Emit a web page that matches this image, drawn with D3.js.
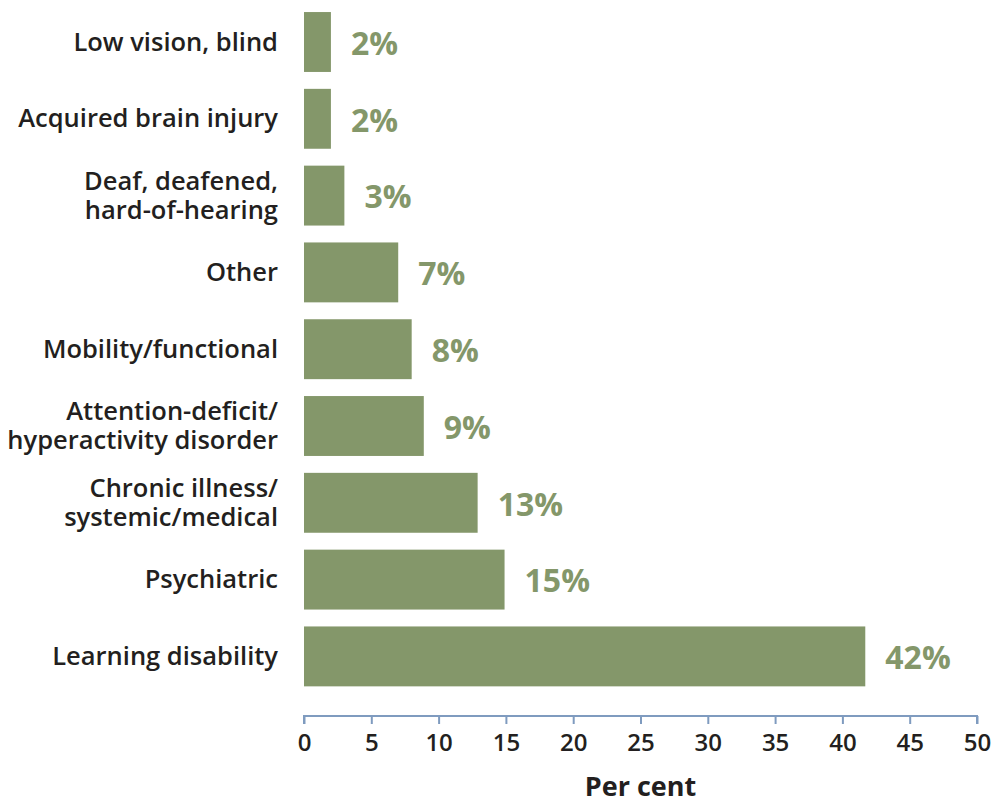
<!DOCTYPE html>
<html>
<head>
<meta charset="utf-8">
<script src="https://cdn.jsdelivr.net/npm/d3@7"></script>
<style>
  body { margin: 0; background: #fff; }
  text { font-family: "Open Sans", "Noto Sans", sans-serif; }
</style>
</head>
<body>
<script>
// Data
var categories = [
    ["Low vision, blind"],
    ["Acquired brain injury"],
    ["Deaf, deafened,", "hard-of-hearing"],
    ["Other"],
    ["Mobility/functional"],
    ["Attention-deficit/", "hyperactivity disorder"],
    ["Chronic illness/", "systemic/medical"],
    ["Psychiatric"],
    ["Learning disability"]
];
var values = [2, 2, 3, 7, 8, 8.9, 12.9, 14.9, 41.7];
var valueLabels = ["2%", "2%", "3%", "7%", "8%", "9%", "13%", "15%", "42%"];
var ticks = [0, 5, 10, 15, 20, 25, 30, 35, 40, 45, 50];

var WIDTH = 997;
var HEIGHT = 803;
var barColor = "#84976a";

var svg = d3.select("body").append("svg")
    .attr("width", WIDTH)
    .attr("height", HEIGHT);

var x = d3.scaleLinear().domain([0, 50]).range([304, 977]);
var y = d3.scaleBand()
    .domain(d3.range(categories.length))
    .range([3.6, 694.8])
    .paddingInner(0.22)
    .paddingOuter(0.11);

// bars
svg.selectAll("rect.bar").data(values).enter().append("rect")
    .attr("class", "bar")
    .attr("x", x(0))
    .attr("y", function(d, i) { return y(i); })
    .attr("width", function(d) { return x(d) - x(0); })
    .attr("height", y.bandwidth())
    .attr("fill", barColor);

// value labels
svg.selectAll("text.val").data(values).enter().append("text")
    .attr("class", "val")
    .attr("x", function(d) { return x(d) + 20; })
    .attr("y", function(d, i) { return y(i) + y.bandwidth() / 2; })
    .attr("dy", "0.4em")
    .attr("fill", barColor)
    .attr("font-size", "32px")
    .attr("font-weight", 700)
    .text(function(d, i) { return valueLabels[i]; });

// category labels (one or two lines each)
var cat = svg.selectAll("text.cat").data(categories).enter().append("text")
    .attr("class", "cat")
    .attr("text-anchor", "end")
    .attr("fill", "#231f20")
    .attr("font-size", "25.5px")
    .attr("font-weight", 600)
    .attr("transform", function(d, i) {
        return "translate(278," + (y(i) + y.bandwidth() / 2) + ")";
    });
cat.each(function(lines) {
    var t = d3.select(this);
    lines.forEach(function(line, k) {
        t.append("tspan")
            .attr("x", 0)
            .attr("y", (k - (lines.length - 1) / 2) * 29.5)
            .attr("dy", "0.34em")
            .text(line);
    });
});

// x axis
var axis = svg.append("g")
    .attr("transform", "translate(0,716)")
    .call(d3.axisBottom(x).tickValues(ticks).tickSize(8).tickPadding(10));
axis.select(".domain").attr("stroke", "#7f9bbf").attr("stroke-width", 2)
    .attr("d", "M" + x(0) + ",8V0H" + x(50) + "V8");
axis.selectAll(".tick line").attr("stroke", "#7f9bbf").attr("stroke-width", 2);
axis.selectAll(".tick text")
    .attr("fill", "#231f20")
    .attr("font-size", "24px")
    .attr("font-weight", 600)
    .style("font-family", "\"Open Sans\", sans-serif");

// axis title
svg.append("text")
    .attr("x", (x(0) + x(50)) / 2)
    .attr("y", 796)
    .attr("text-anchor", "middle")
    .attr("fill", "#231f20")
    .attr("font-size", "27px")
    .attr("font-weight", 700)
    .text("Per cent");
</script>
</body>
</html>
